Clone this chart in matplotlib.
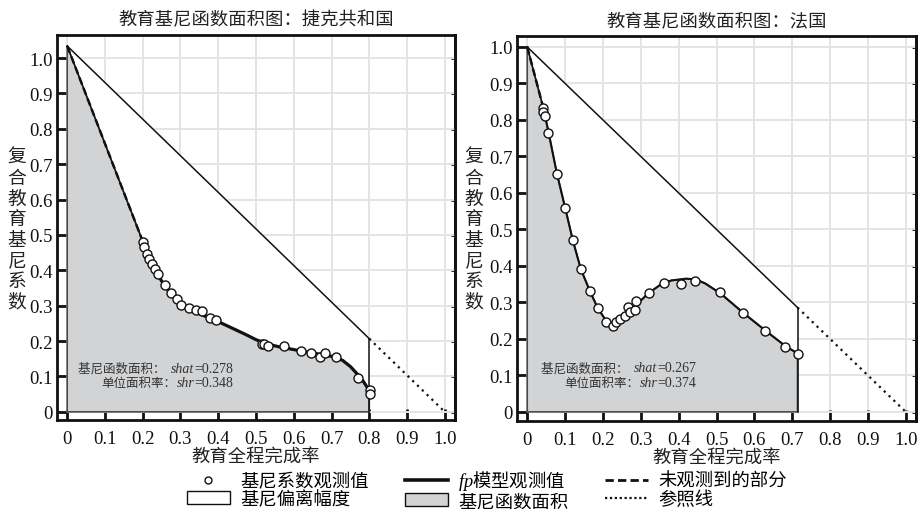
import numpy as np
import matplotlib
matplotlib.use("Agg")
import matplotlib.pyplot as plt
from matplotlib.patches import Patch
from matplotlib.lines import Line2D

plt.rcParams['font.family'] = ['Liberation Serif', 'Noto Sans CJK SC']
plt.rcParams['mathtext.fontset'] = 'custom'
plt.rcParams['mathtext.it'] = 'Liberation Serif:italic'
plt.rcParams['mathtext.rm'] = 'Noto Sans CJK SC'

# ---- data ----
# Czech Republic
cz_title = "教育基尼函数面积图：捷克共和国"
cz_obs_x = [0.200, 0.204, 0.211, 0.217, 0.225, 0.232, 0.240, 0.258, 0.275, 0.290,
            0.301, 0.322, 0.340, 0.357, 0.377, 0.394, 0.516, 0.522, 0.531, 0.573,
            0.618, 0.646, 0.669, 0.682, 0.711, 0.769, 0.802, 0.802]
cz_obs_y = [0.481, 0.465, 0.446, 0.432, 0.418, 0.404, 0.390, 0.359, 0.336, 0.319,
            0.303, 0.293, 0.288, 0.285, 0.266, 0.260, 0.192, 0.191, 0.187, 0.187,
            0.171, 0.165, 0.156, 0.167, 0.154, 0.096, 0.062, 0.050]
cz_fp_x = [0.200, 0.215, 0.230, 0.250, 0.270, 0.290, 0.310, 0.330, 0.350, 0.380,
           0.410, 0.440, 0.470, 0.500, 0.530, 0.560, 0.600, 0.640, 0.680, 0.710,
           0.730, 0.750, 0.770, 0.785, 0.800]
cz_fp_y = [0.482, 0.440, 0.405, 0.370, 0.340, 0.315, 0.298, 0.287, 0.277, 0.264,
           0.250, 0.235, 0.220, 0.204, 0.192, 0.184, 0.176, 0.168, 0.161, 0.155,
           0.145, 0.128, 0.105, 0.085, 0.060]
cz_top = 1.034
cz_xmax = 0.80
cz_shat, cz_shr = "0.278", "0.348"

# France
fr_title = "教育基尼函数面积图：法国"
fr_obs_x = [0.042, 0.043, 0.047, 0.056, 0.078, 0.100, 0.121, 0.142, 0.166, 0.186,
            0.208, 0.226, 0.235, 0.245, 0.257, 0.267, 0.271, 0.286, 0.288, 0.323,
            0.362, 0.406, 0.442, 0.508, 0.571, 0.629, 0.682, 0.714]
fr_obs_y = [0.833, 0.823, 0.810, 0.764, 0.653, 0.558, 0.470, 0.392, 0.331, 0.284,
            0.247, 0.235, 0.246, 0.255, 0.264, 0.287, 0.273, 0.278, 0.305, 0.327,
            0.352, 0.350, 0.358, 0.328, 0.270, 0.222, 0.178, 0.159]
fr_fp_x = [0.042, 0.056, 0.078, 0.100, 0.121, 0.142, 0.166, 0.186, 0.205, 0.222,
           0.235, 0.250, 0.270, 0.290, 0.320, 0.350, 0.380, 0.420, 0.445, 0.470,
           0.510, 0.570, 0.630, 0.680, 0.714]
fr_fp_y = [0.835, 0.768, 0.655, 0.560, 0.468, 0.390, 0.330, 0.285, 0.255, 0.240,
           0.238, 0.248, 0.270, 0.295, 0.325, 0.347, 0.360, 0.365, 0.363, 0.352,
           0.325, 0.272, 0.222, 0.182, 0.160]
fr_top = 1.0
fr_xmax = 0.714
fr_shat, fr_shr = "0.267", "0.374"

ticks = [0, 0.1, 0.2, 0.3, 0.4, 0.5, 0.6, 0.7, 0.8, 0.9, 1.0]
tick_labels = ["0", "0.1", "0.2", "0.3", "0.4", "0.5", "0.6", "0.7", "0.8", "0.9", "1.0"]
ylab = "复合教育基尼系数"
xlab = "教育全程完成率"

gray = "#d2d3d5"
txtc = "#222222"
cjk = ["Noto Sans CJK SC"]


def panel(ax, title, obs_x, obs_y, fp_x, fp_y, top, xmax, shat, shr, ylim, fp_lw,
          note_x, note_y):
    ref_x = [0, 1.0]
    ref_y = [top, 0]
    ref_at_max = np.interp(xmax, ref_x, ref_y)

    # white deviation area and gray function area
    ax.fill([0, 0, xmax, xmax], [0, top, ref_at_max, 0], color="white", zorder=2)
    ax.fill([0, 0] + fp_x + [xmax], [0, top] + fp_y + [0], facecolor=gray,
            edgecolor="#4a4a4a", lw=1.2, zorder=3)

    # reference line: solid over observed part, dotted beyond
    ax.plot([0, xmax], [top, ref_at_max], color="#111111", lw=1.1, zorder=4)
    ax.plot([xmax, 1.0], [ref_at_max, 0], color="#111111", lw=1.6, ls=(0, (1, 2)), zorder=4)
    ax.plot([xmax, xmax], [0, ref_at_max], color="#111111", lw=1.1, zorder=4)

    # unobserved part and fp curve
    ax.plot([0, fp_x[0]], [top, fp_y[0]], color="#111111", lw=1.0, zorder=5)
    ax.plot([0, fp_x[0]], [top, fp_y[0]], color="#111111", lw=1.8, ls=(0, (3, 1.5)), zorder=5)
    ax.plot(fp_x, fp_y, color="#111111", lw=fp_lw, zorder=5)
    ax.plot(obs_x, obs_y, "o", ms=6.5, mfc="white", mec="#111111", mew=1.0, zorder=6)

    ax.set_xlim(-0.027, 1.027)
    ax.set_ylim(*ylim)
    ax.set_xticks(ticks)
    ax.set_xticklabels(tick_labels)
    ax.set_yticks(ticks)
    ax.set_yticklabels(tick_labels)
    ax.grid(True, color="#e4e4e6", lw=1.4)
    ax.set_axisbelow(True)
    ax.tick_params(direction="in", length=8, width=2, labelsize=13.5, colors="#111111",
                   left=True, right=False, bottom=True, top=False)
    ax.tick_params(axis="x", pad=7)
    ax.tick_params(axis="y", pad=3)
    for s in ax.spines.values():
        s.set_linewidth(2)
        s.set_color("#111111")

    # short inward ticks on the right spine
    sec = ax.secondary_yaxis("right")
    sec.set_yticks(ticks)
    sec.tick_params(direction="in", length=3, width=2, labelright=False, colors="#111111")
    sec.spines["right"].set_linewidth(2)

    ax.set_title(title, fontsize=13.2, pad=8, color=txtc, family=cjk)
    ax.set_xlabel(xlab, fontsize=13.2, labelpad=1, color=txtc, family=cjk)

    # annotation text, pieces chained right to left
    for i, (lab, sym, val) in enumerate([("基尼函数面积：  ", "shat", "=" + shat),
                                         ("单位面积率：", "shr", "=" + shr)]):
        t3 = ax.text(note_x, note_y[i], val, fontsize=10, color="#333333", ha="right",
                     va="baseline", family="Liberation Serif", zorder=7)
        t2 = ax.annotate(sym, xy=(0, 0), xycoords=t3, ha="right", va="bottom",
                         fontsize=10, color="#333333", style="italic",
                         family="Liberation Serif", zorder=7)
        ax.annotate(lab, xy=(0, 0), xycoords=t2, ha="right", va="bottom",
                    fontsize=9, color="#333333", family=cjk, zorder=7)


fig = plt.figure(figsize=(9.24, 5.10), dpi=100)
ax1 = fig.add_axes([57 / 924, 1 - 421 / 510, 398 / 924, 385 / 510])
ax2 = fig.add_axes([517 / 924, 1 - 422 / 510, 399 / 924, 385 / 510])

panel(ax1, cz_title, cz_obs_x, cz_obs_y, cz_fp_x, cz_fp_y, cz_top, cz_xmax,
      cz_shat, cz_shr, (-0.023, 1.065), 2.3, 0.439, [0.114, 0.072])
panel(ax2, fr_title, fr_obs_x, fr_obs_y, fr_fp_x, fr_fp_y, fr_top, fr_xmax,
      fr_shat, fr_shr, (-0.025, 1.030), 1.5, 0.447, [0.111, 0.070])

fig.text(17 / 924, 1 - 230 / 510, "\n".join(ylab), ha="center", va="center",
         fontsize=13.5, linespacing=0.98, color=txtc, family=cjk)
fig.text(474 / 924, 1 - 230 / 510, "\n".join(ylab), ha="center", va="center",
         fontsize=13.5, linespacing=0.98, color=txtc, family=cjk)

handles = [
    Line2D([], [], ls="none", marker="o", ms=5, mfc="white", mec="#111111", mew=1.0),
    Patch(facecolor="white", edgecolor="#111111", lw=1.0),
    Line2D([], [], color="#111111", lw=2.6),
    Patch(facecolor=gray, edgecolor="#111111", lw=1.0),
    Line2D([], [], color="#111111", lw=2, ls=(0, (3, 1.5))),
    Line2D([], [], color="#111111", lw=1.6, ls=(0, (1, 1.2))),
]
labels = ["基尼系数观测值", "基尼偏离幅度", "$fp$模型观测值", "基尼函数面积",
          "未观测到的部分", "参照线"]
fig.legend(handles, labels, loc="center", bbox_to_anchor=(487 / 924, 1 - 490 / 510),
           ncol=3, frameon=False, handlelength=2.35, handletextpad=0.55,
           columnspacing=2.0, labelspacing=0.0, borderpad=0.0,
           prop={"family": cjk, "size": 13.2})

fig.savefig("out.png", dpi=100)
